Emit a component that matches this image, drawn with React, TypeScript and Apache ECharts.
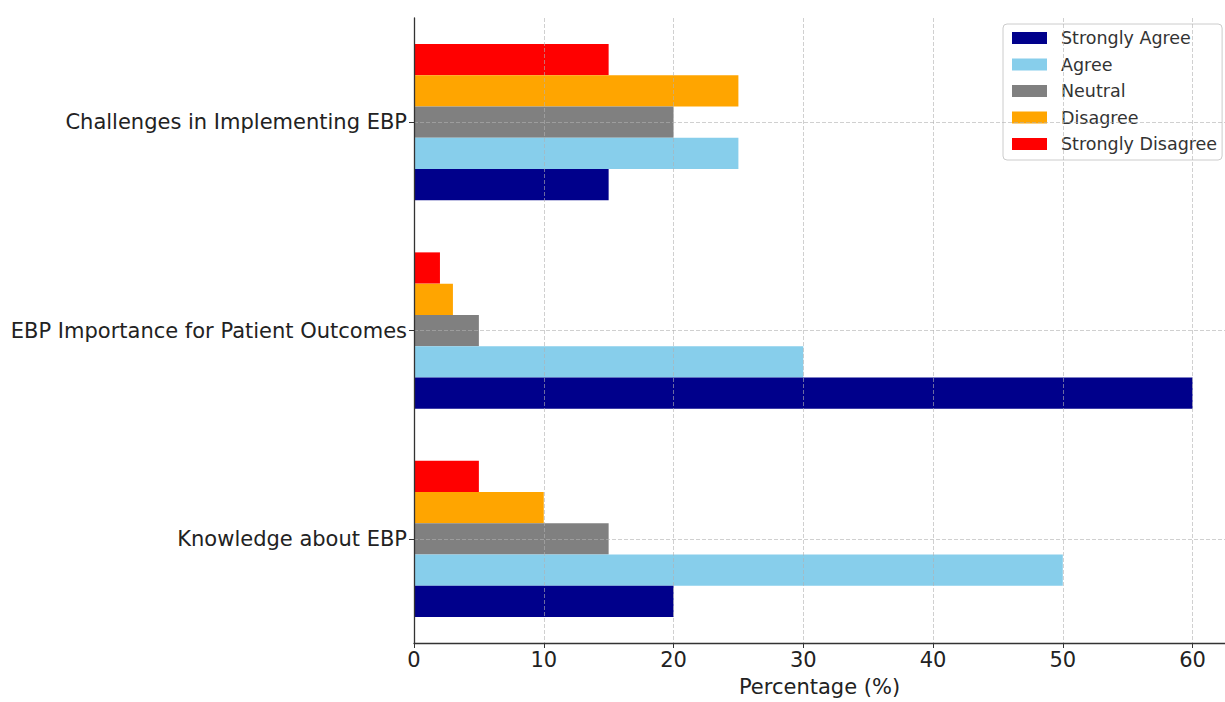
import React, { useEffect, useRef } from "react";
import * as echarts from "echarts";

const categories = ["Knowledge about EBP", "EBP Importance for Patient Outcomes", "Challenges in Implementing EBP"];
const seriesNames = ["Strongly Agree", "Agree", "Neutral", "Disagree", "Strongly Disagree"];
const colors = ["#00008B", "#87CEEB", "#808080", "#FFA500", "#FF0000"];
const stronglyAgree = [20, 60, 15];
const agree = [50, 30, 25];
const neutral = [15, 5, 20];
const disagree = [10, 3, 25];
const stronglyDisagree = [5, 2, 15];
const xTicks = [0, 10, 20, 30, 40, 50, 60];

const seriesValues = [stronglyAgree, agree, neutral, disagree, stronglyDisagree];

export default function App() {
  const ref = useRef<HTMLDivElement>(null);
  useEffect(() => {
    if (!ref.current) return;
    const chart = echarts.init(ref.current, undefined, { renderer: "svg", width: 1225, height: 702 });
    const gridColor = "rgba(176,176,176,0.6)";
    const font = "DejaVu Sans";
    const order = [4, 3, 2, 1, 0];
    chart.setOption({
      animation: false,
      textStyle: { fontFamily: font },
      grid: { left: 414, right: 0, top: 18, bottom: 47, containLabel: false },
      legend: {
        data: seriesNames,
        orient: "vertical",
        left: 1003,
        top: 24,
        itemWidth: 35,
        itemHeight: 12,
        itemGap: 8.5,
        padding: [5, 5, 7, 9],
        borderColor: "#cccccc",
        borderWidth: 1,
        borderRadius: 4,
        backgroundColor: "rgba(255,255,255,0.85)",
        icon: "rect",
        textStyle: { fontFamily: font, fontSize: 17.5, color: "#333", lineHeight: 18, padding: [0, 0, 0, 9] },
      },
      xAxis: {
        type: "value",
        min: 0,
        max: 62.5,
        interval: 10,
        z: 10,
        name: "Percentage (%)",
        nameLocation: "middle",
        nameGap: 33,
        nameTextStyle: { fontFamily: font, fontSize: 21, color: "#222" },
        axisLine: { show: true, lineStyle: { color: "#333", width: 1.3 } },
        axisTick: { show: true, length: 5, lineStyle: { color: "#333" } },
        axisLabel: {
          fontFamily: font,
          fontSize: 21,
          color: "#222",
          margin: 6,
          showMaxLabel: false,
          formatter: (v: number) => (xTicks.includes(v) ? String(v) : ""),
        },
        splitLine: { show: true, lineStyle: { type: "dashed", color: gridColor, width: 1 } },
      },
      yAxis: {
        type: "category",
        data: categories,
        z: 10,
        axisLine: { show: true, lineStyle: { color: "#333", width: 1.3 } },
        axisTick: { show: true, length: 5, alignWithLabel: true, lineStyle: { color: "#333" } },
        axisLabel: { fontFamily: font, fontSize: 21, color: "#222", margin: 7 },
        splitLine: { show: false },
      },
      series: [
        ...order.map((i) => ({
          name: seriesNames[i],
          type: "bar",
          data: seriesValues[i],
          barWidth: "15%",
          barGap: "0%",
          itemStyle: { color: colors[i] },
        })),
        {
          name: "grid",
          type: "line",
          data: [],
          z: 10,
          markLine: {
            silent: true,
            symbol: "none",
            label: { show: false },
            lineStyle: { type: "dashed", color: gridColor, width: 1 },
            data: categories.map((c) => ({ yAxis: c })),
          },
        },
      ],
    });
    return () => chart.dispose();
  }, []);
  return <div ref={ref} style={{ width: 1225, height: 702, position: "absolute", left: 0, top: 0 }} />;
}
